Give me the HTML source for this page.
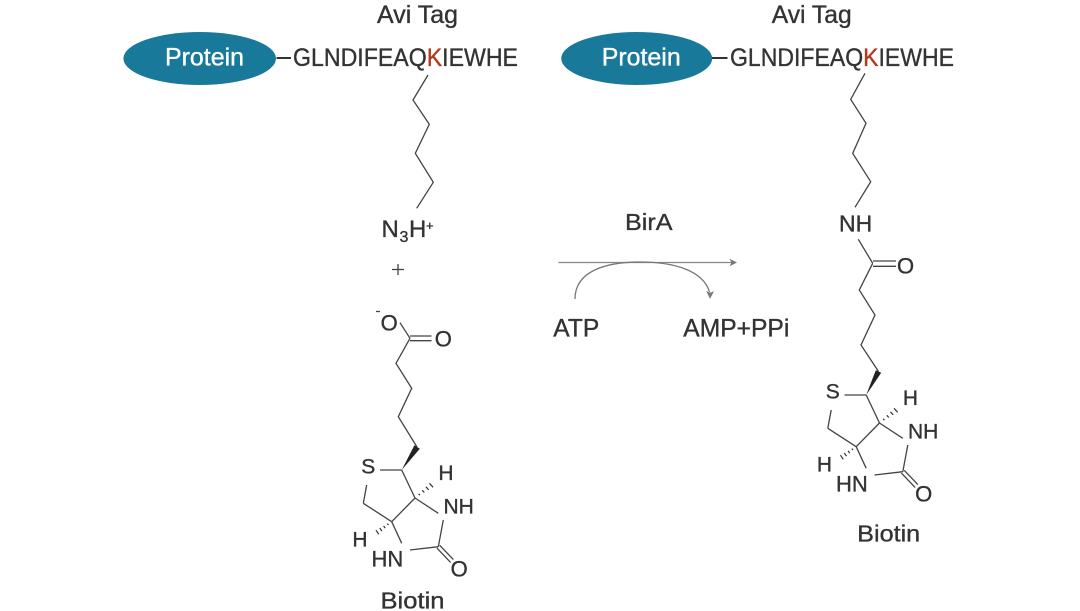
<!DOCTYPE html>
<html>
<head>
<meta charset="utf-8">
<style>
  html,body{margin:0;padding:0;background:#fff;}
  svg{display:block;}
  text{font-family:"Liberation Sans",Arial,sans-serif;fill:#333;stroke:#333;stroke-width:0.35px;}
  text.w{fill:#fff;stroke:#fff;}
  tspan.k{fill:#b23a1c;stroke:#b23a1c;}
</style>
</head>
<body>
<svg width="1080" height="611" viewBox="0 0 1080 611" xmlns="http://www.w3.org/2000/svg">
  <rect x="0" y="0" width="1080" height="611" fill="#fff"/>

  <!-- ================= LEFT HEADER ================= -->
  <text x="377" y="23" font-size="25" textLength="81" lengthAdjust="spacingAndGlyphs">Avi Tag</text>
  <ellipse cx="199.7" cy="58.5" rx="76.3" ry="26.5" fill="#19799b"/>
  <text class="w" x="204.5" y="65.7" font-size="25" text-anchor="middle" textLength="79" lengthAdjust="spacingAndGlyphs">Protein</text>
  <line x1="276.5" y1="58" x2="291" y2="58" stroke="#333" stroke-width="2"/>
  <text x="293" y="66" font-size="25" textLength="225" lengthAdjust="spacingAndGlyphs">GLNDIFEAQ<tspan class="k">K</tspan>IEWHE</text>

  <!-- left lysine chain -->
  <polyline points="428,75 413,100 429.3,124.3 415.3,153.3 433.3,182.3 416.7,208.3" fill="none" stroke="#444" stroke-width="1.3"/>
  <!-- N3H+ -->
  <text x="381.5" y="237" font-size="24">N</text>
  <text x="399.5" y="242" font-size="16">3</text>
  <text x="409" y="237" font-size="24">H</text>
  <text x="426" y="230" font-size="13">+</text>

  <!-- plus sign -->
  <line x1="392" y1="269.5" x2="404" y2="269.5" stroke="#444" stroke-width="1.3"/>
  <line x1="398" y1="264" x2="398" y2="275" stroke="#444" stroke-width="1.3"/>

  <!-- carboxylate -->
  <line x1="376" y1="311.5" x2="380" y2="311.5" stroke="#444" stroke-width="1.3"/>
  <text x="389.2" y="330.3" font-size="22" text-anchor="middle">O</text>
  <text x="443.3" y="346.3" font-size="22" text-anchor="middle">O</text>
  <line x1="400" y1="322.7" x2="410" y2="338.3" stroke="#444" stroke-width="1.3"/>
  <line x1="410" y1="336" x2="431.5" y2="336" stroke="#444" stroke-width="1.3"/>
  <line x1="410" y1="340.7" x2="431.5" y2="340.7" stroke="#444" stroke-width="1.3"/>
  <polyline points="410,338.3 396,363.3 411.7,388.3 398.3,416.7 417,447" fill="none" stroke="#444" stroke-width="1.3"/>
  <!-- wedge -->
  <polygon points="401.7,470 419.8,448.8 414.4,445.2" fill="#222"/>

  <!-- left biotin ring -->
  <g>
    <text x="368.3" y="473.3" font-size="21" text-anchor="middle">S</text>
    <line x1="380" y1="470" x2="401.7" y2="470" stroke="#444" stroke-width="1.3"/>
    <line x1="401.7" y1="470" x2="415" y2="498" stroke="#444" stroke-width="1.3"/>
    <line x1="366.7" y1="485" x2="363.3" y2="503.3" stroke="#444" stroke-width="1.3"/>
    <line x1="363.3" y1="503.3" x2="391.7" y2="521.7" stroke="#444" stroke-width="1.3"/>
    <line x1="415" y1="498" x2="391.7" y2="521.7" stroke="#444" stroke-width="1.3"/>
    <line x1="415" y1="498" x2="438.3" y2="513.3" stroke="#444" stroke-width="1.3"/>
    <text x="443.5" y="513.5" font-size="21">NH</text>
    <line x1="443.3" y1="520" x2="438.3" y2="546.7" stroke="#444" stroke-width="1.3"/>
    <line x1="438.3" y1="546.7" x2="410" y2="550" stroke="#444" stroke-width="1.3"/>
    <text x="371.5" y="566.7" font-size="22">HN</text>
    <line x1="391.7" y1="521.7" x2="401.7" y2="543.3" stroke="#444" stroke-width="1.3"/>
    <line x1="439.7" y1="545.3" x2="453.4" y2="559.6" stroke="#444" stroke-width="1.3"/>
    <line x1="436.9" y1="548.1" x2="450.6" y2="562.4" stroke="#444" stroke-width="1.3"/>
    <text x="459.2" y="576.3" font-size="22" text-anchor="middle">O</text>
    <!-- hash up-right -->
    <g stroke="#333" stroke-width="1.2">
      <line x1="418.7" y1="493.8" x2="419.9" y2="495.2"/>
      <line x1="422.3" y1="490.3" x2="424.3" y2="492.5"/>
      <line x1="425.9" y1="486.8" x2="428.7" y2="489.9"/>
      <line x1="429.5" y1="483.3" x2="433.1" y2="487.3"/>
    </g>
    <text x="446" y="480" font-size="21" text-anchor="middle">H</text>
    <!-- hash down-left -->
    <g stroke="#333" stroke-width="1.2">
      <line x1="387.4" y1="523.6" x2="388.4" y2="525.1"/>
      <line x1="383.6" y1="525.8" x2="385.2" y2="528.2"/>
      <line x1="379.8" y1="528.0" x2="382.0" y2="531.2"/>
      <line x1="376.0" y1="530.2" x2="378.8" y2="534.3"/>
    </g>
    <text x="360" y="546.7" font-size="21" text-anchor="middle">H</text>
  </g>
  <text x="412.5" y="608.3" font-size="23" text-anchor="middle" textLength="64" lengthAdjust="spacingAndGlyphs">Biotin</text>

  <!-- ================= MIDDLE REACTION ================= -->
  <text x="625" y="230" font-size="23" textLength="47.5" lengthAdjust="spacingAndGlyphs">BirA</text>
  <line x1="558.3" y1="262.5" x2="732" y2="262.5" stroke="#888" stroke-width="1.3"/>
  <polygon points="737,262.5 729.5,258.8 731.5,262.5 729.5,266.2" fill="#777"/>
  <path d="M575,299 C575,270 608,262 640,262 C673,262 703,270 709.5,292" fill="none" stroke="#777" stroke-width="1.3"/>
  <polygon points="710,298.8 706.2,291 710,292.8 714,291.2" fill="#777"/>
  <text x="553.3" y="336.7" font-size="25" textLength="46" lengthAdjust="spacingAndGlyphs">ATP</text>
  <text x="683.3" y="336.7" font-size="25" textLength="106" lengthAdjust="spacingAndGlyphs">AMP+PPi</text>

  <!-- ================= RIGHT HEADER ================= -->
  <text x="771.7" y="23" font-size="25" textLength="80" lengthAdjust="spacingAndGlyphs">Avi Tag</text>
  <ellipse cx="636.7" cy="58.5" rx="75.5" ry="26.5" fill="#19799b"/>
  <text class="w" x="641.2" y="65.7" font-size="25" text-anchor="middle" textLength="79" lengthAdjust="spacingAndGlyphs">Protein</text>
  <line x1="712" y1="58" x2="727.5" y2="58" stroke="#333" stroke-width="2"/>
  <text x="730" y="66" font-size="25" textLength="224" lengthAdjust="spacingAndGlyphs">GLNDIFEAQ<tspan class="k">K</tspan>IEWHE</text>

  <!-- right lysine chain -->
  <polyline points="865,73.3 850.7,99.3 866,123.3 852.7,153.3 870.7,181.7 855,207.3" fill="none" stroke="#444" stroke-width="1.3"/>
  <text x="839" y="231.7" font-size="23">NH</text>
  <line x1="858.3" y1="239.3" x2="872.7" y2="263.3" stroke="#444" stroke-width="1.3"/>
  <line x1="873" y1="261" x2="896" y2="261" stroke="#444" stroke-width="1.3"/>
  <line x1="873" y1="266.3" x2="896" y2="266.3" stroke="#444" stroke-width="1.3"/>
  <text x="905.5" y="273.7" font-size="22" text-anchor="middle">O</text>
  <polyline points="872.7,263.3 859.3,290 875,315 861,345 878.5,371.5" fill="none" stroke="#444" stroke-width="1.3"/>
  <polygon points="866.2,395 881.2,372.8 875.8,370.2" fill="#222"/>

  <!-- right biotin ring -->
  <g transform="translate(464.5,-75)">
    <text x="368.3" y="473.3" font-size="21" text-anchor="middle">S</text>
    <line x1="380" y1="470" x2="401.7" y2="470" stroke="#444" stroke-width="1.3"/>
    <line x1="401.7" y1="470" x2="415" y2="498" stroke="#444" stroke-width="1.3"/>
    <line x1="366.7" y1="485" x2="363.3" y2="503.3" stroke="#444" stroke-width="1.3"/>
    <line x1="363.3" y1="503.3" x2="391.7" y2="521.7" stroke="#444" stroke-width="1.3"/>
    <line x1="415" y1="498" x2="391.7" y2="521.7" stroke="#444" stroke-width="1.3"/>
    <line x1="415" y1="498" x2="438.3" y2="513.3" stroke="#444" stroke-width="1.3"/>
    <text x="443.5" y="513.5" font-size="21">NH</text>
    <line x1="443.3" y1="520" x2="438.3" y2="546.7" stroke="#444" stroke-width="1.3"/>
    <line x1="438.3" y1="546.7" x2="410" y2="550" stroke="#444" stroke-width="1.3"/>
    <text x="371.5" y="566.7" font-size="22">HN</text>
    <line x1="391.7" y1="521.7" x2="401.7" y2="543.3" stroke="#444" stroke-width="1.3"/>
    <line x1="439.7" y1="545.3" x2="453.4" y2="559.6" stroke="#444" stroke-width="1.3"/>
    <line x1="436.9" y1="548.1" x2="450.6" y2="562.4" stroke="#444" stroke-width="1.3"/>
    <text x="459.2" y="576.3" font-size="22" text-anchor="middle">O</text>
    <g stroke="#333" stroke-width="1.2">
      <line x1="418.7" y1="493.8" x2="419.9" y2="495.2"/>
      <line x1="422.3" y1="490.3" x2="424.3" y2="492.5"/>
      <line x1="425.9" y1="486.8" x2="428.7" y2="489.9"/>
      <line x1="429.5" y1="483.3" x2="433.1" y2="487.3"/>
    </g>
    <text x="446" y="480" font-size="21" text-anchor="middle">H</text>
    <g stroke="#333" stroke-width="1.2">
      <line x1="387.4" y1="523.6" x2="388.4" y2="525.1"/>
      <line x1="383.6" y1="525.8" x2="385.2" y2="528.2"/>
      <line x1="379.8" y1="528.0" x2="382.0" y2="531.2"/>
      <line x1="376.0" y1="530.2" x2="378.8" y2="534.3"/>
    </g>
    <text x="360" y="546.7" font-size="21" text-anchor="middle">H</text>
  </g>
  <text x="888.7" y="541.5" font-size="23" text-anchor="middle" textLength="63" lengthAdjust="spacingAndGlyphs">Biotin</text>
</svg>
</body>
</html>
